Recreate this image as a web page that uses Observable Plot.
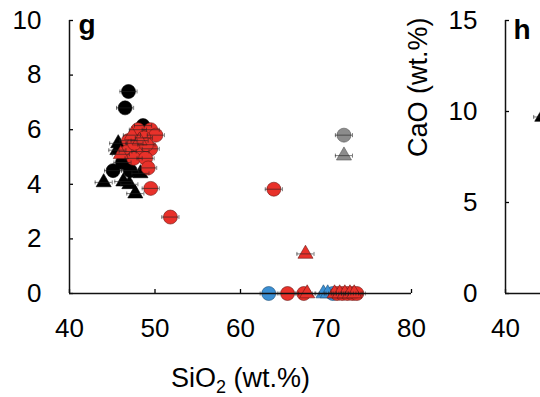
<!DOCTYPE html>
<html><head><meta charset="utf-8">
<script src="https://cdn.jsdelivr.net/npm/d3@7"></script>
<script src="https://cdn.jsdelivr.net/npm/@observablehq/plot@0.6"></script>
<style>
body{margin:0;background:#fff;}
#wrap{position:relative;width:540px;height:397px;overflow:hidden;background:#fff;}
#wrap svg{position:absolute;top:0;}
</style></head><body><div id="wrap"></div>
<script>
// ---- tick values ----
const xTicksG = [40, 50, 60, 70, 80];
const yTicksG = [0, 2, 4, 6, 8, 10];
const xTicksH = [40, 50];
const yTicksH = [0, 5, 10, 15];
const errSiO2 = 1.0; // +/- wt.% horizontal error

// ---- panel g: [SiO2, value] ----
const blackCircles = [[46.9,7.4],[46.5,6.8],[48.6,6.15],[45.1,4.5],[47.1,4.5],[46.2,4.8]];
const blackTriangles = [[44.0,4.07],[45.7,5.5],[45.6,5.25],[46.3,4.1],[47.7,3.66],[48.3,4.4],[47.0,4.0]];
const blueCircles = [[63.3,0],[70.8,0]];
const blueTriangles = [[69.7,0],[70.2,0]];
const greyCircles = [[72.1,5.8]];
const greyTriangles = [[72.1,5.05]];
const redCircles = [[48.0,6.0],[49.5,6.0],[50.1,5.8],[48.7,5.7],[46.9,5.6],[46.8,5.2],[48.3,5.2],[49.5,5.3],[47.5,4.95],[48.9,4.95],[49.2,4.6],[49.5,3.85],[47.6,5.5],[49.0,5.45],[51.8,2.8],[63.9,3.82],[65.5,0],[67.4,0],[71.3,0],[71.9,0],[72.5,0],[73.1,0],[73.6,0]];
const redTriangles = [[46.0,5.1],[47.3,5.8],[48.2,5.6],[67.6,1.45],[67.8,0],[71.0,0],[71.6,0],[72.2,0],[72.8,0],[73.3,0]];

// ---- panel h (only its left edge is visible) ----
const blackTrianglesH = [[44.3,9.7]];

const FONT = '"Liberation Sans", Arial, Helvetica, sans-serif';
const RED = "#e8312a", BLUE = "#3b8fd3", GREY = "#8c8c8c";

const toRec = a => a.map(([x, y]) => ({x, y}));
const series = [
  {d: blackTriangles, sym: "triangle", fill: "#000", stroke: "#000"},
  {d: blackCircles, sym: "circle", fill: "#000", stroke: "#000"},
  {d: blueCircles, sym: "circle", fill: BLUE, stroke: "#1f4f75"},
  {d: blueTriangles, sym: "triangle", fill: BLUE, stroke: "#1f4f75"},
  {d: greyCircles, sym: "circle", fill: GREY, stroke: "#555"},
  {d: greyTriangles, sym: "triangle", fill: GREY, stroke: "#555"},
  {d: redCircles, sym: "circle", fill: RED, stroke: "#6a1a16"},
  {d: redTriangles, sym: "triangle", fill: RED, stroke: "#6a1a16"}
];

const vbar = {draw(ctx, size) { const h = Math.sqrt(size / Math.PI); ctx.moveTo(0, -h); ctx.lineTo(0, h); }};

function pointMarks(list) {
  const marks = [];
  for (const s of list) {
    marks.push(Plot.dot(toRec(s.d), {x: "x", y: "y", symbol: s.sym, r: s.sym === "circle" ? 7 : 5.6,
      fill: s.fill, stroke: s.stroke, strokeWidth: 0.6}));
  }
  const all = list.flatMap(s => toRec(s.d));
  marks.push(Plot.ruleY(all, {y: "y", x1: d => d.x - errSiO2, x2: d => d.x + errSiO2, stroke: "#222", strokeWidth: 0.6}));
  const caps = all.flatMap(d => [{x: d.x - errSiO2, y: d.y}, {x: d.x + errSiO2, y: d.y}]);
  marks.push(Plot.dot(caps, {x: "x", y: "y", symbol: vbar, r: 2, stroke: "#222", strokeWidth: 0.6}));
  return marks;
}

const axisCommon = {fontSize: 26, label: null};

const g = Plot.plot({
  width: 540, height: 397,
  marginLeft: 69, marginRight: 129, marginTop: 20, marginBottom: 104,
  x: {domain: [40, 80]}, y: {domain: [0, 10]},
  style: {fontFamily: FONT, fontSize: "26px", color: "#000", background: "transparent", overflow: "visible"},
  marks: [
    Plot.axisX({ticks: xTicksG, tickSize: 0, tickPadding: 25, ...axisCommon}),
    Plot.axisY({ticks: yTicksG, tickSize: 0, tickPadding: 28, ...axisCommon}),
    Plot.axisX({ticks: xTicksG, tickSize: -4, tickFormat: () => "", label: null, strokeWidth: 1.3}),
    Plot.axisY({ticks: yTicksG, tickSize: -4, tickFormat: () => "", label: null, strokeWidth: 1.3}),
    Plot.ruleX([40], {stroke: "#111", strokeWidth: 1.5}),
    ...pointMarks(series),
    Plot.ruleY([0], {stroke: "#111", strokeWidth: 1.5}),
    Plot.text(["g"], {frameAnchor: "top-left", dx: 9, dy: -6, lineAnchor: "top", textAnchor: "start", fontWeight: "bold", fontSize: 28}),
    Plot.text(["SiO2 (wt.%)"], {frameAnchor: "bottom", dy: 85, lineAnchor: "middle", fontSize: 27})
  ]
});

const h = Plot.plot({
  width: 447, height: 397,
  marginLeft: 105, marginRight: 0, marginTop: 20, marginBottom: 104,
  x: {domain: [40, 80]}, y: {domain: [0, 15]},
  style: {fontFamily: FONT, fontSize: "26px", color: "#000", background: "transparent", overflow: "visible"},
  marks: [
    Plot.axisX({ticks: [40], tickSize: 0, tickPadding: 25, ...axisCommon}),
    Plot.axisY({ticks: yTicksH, tickSize: 0, tickPadding: 28, ...axisCommon}),
    Plot.axisX({ticks: xTicksH, tickSize: -4, tickFormat: () => "", label: null, strokeWidth: 1.3}),
    Plot.axisY({ticks: yTicksH, tickSize: -4, tickFormat: () => "", label: null, strokeWidth: 1.3}),
    Plot.ruleX([40], {stroke: "#111", strokeWidth: 1.5}),
    Plot.ruleY([0], {stroke: "#111", strokeWidth: 1.5}),
    ...pointMarks([{d: blackTrianglesH, sym: "triangle", fill: "#000", stroke: "#000"}]),
    Plot.text(["h"], {frameAnchor: "top-left", dx: 8, dy: -1, lineAnchor: "top", textAnchor: "start", fontWeight: "bold", fontSize: 28}),
    Plot.text(["CaO (wt.%)"], {frameAnchor: "left", dx: -87, rotate: -90, fontSize: 27})
  ]
});

const wrap = document.getElementById("wrap");
g.style.left = "0px";
h.style.left = "400px";
wrap.appendChild(g);
wrap.appendChild(h);

// subscript 2 in SiO2
d3.select(g).selectAll("text").filter(function() { return this.textContent === "SiO2 (wt.%)"; })
  .each(function() {
    const t = d3.select(this);
    t.text(null);
    t.append("tspan").text("SiO");
    t.append("tspan").attr("dy", 6).attr("font-size", 18).text("2");
    t.append("tspan").attr("dy", -6).text(" (wt.%)");
  });
</script></body></html>
